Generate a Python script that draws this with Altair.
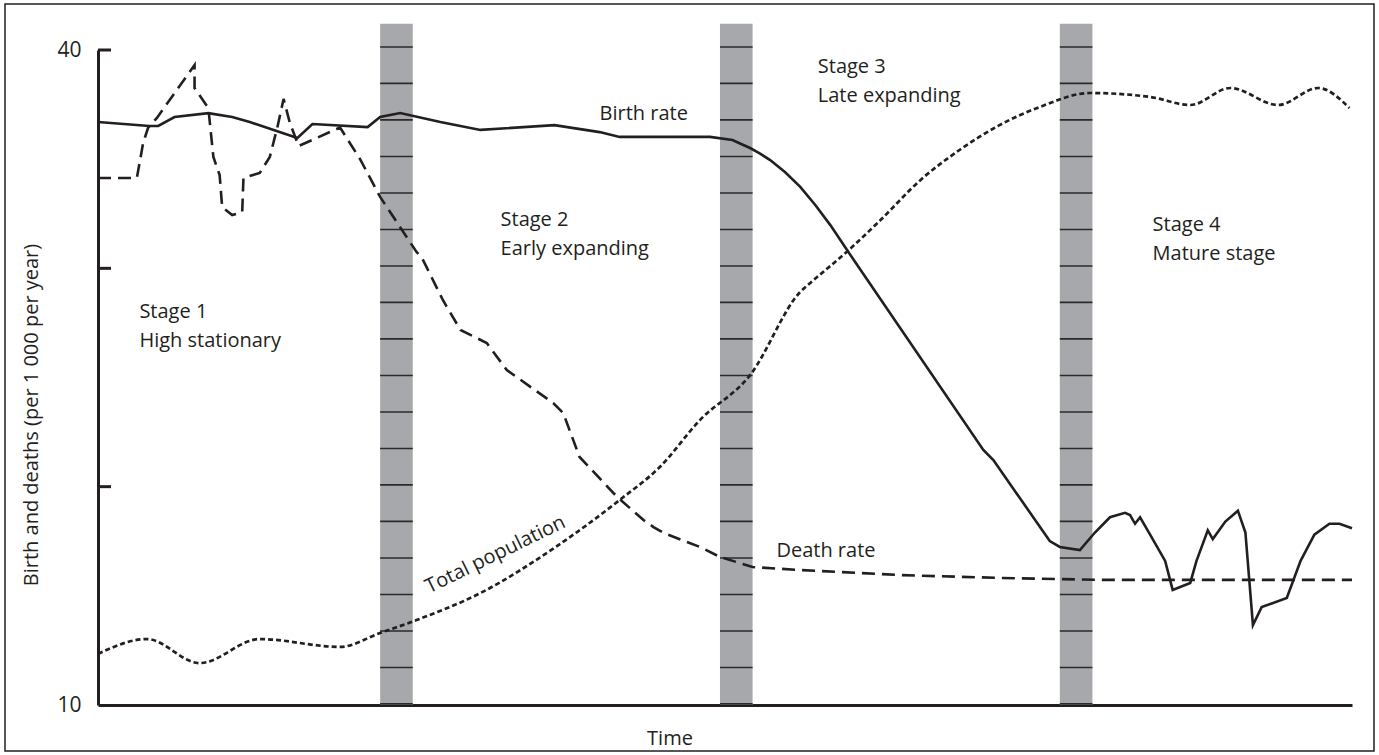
import altair as alt
import pandas as pd

# Time runs on an unlabelled 0-100 scale; rates are per 1 000 per year
birth_t = [0, 4.1, 4.8, 6.1, 8.8, 10.7, 12.1, 15.9, 17.1, 21.5, 22.5, 24.1, 27.3, 30.5, 36.4,
           40.0, 41.6, 48.8, 50.6, 51.2, 52.0, 52.8, 53.6, 54.8, 56.0, 57.2, 58.4, 60.0, 70.6,
           71.4, 75.9, 76.7, 78.3,
           79.5, 80.7, 81.9, 82.3, 82.7, 83.1, 83.9, 85.1, 85.7, 87.1, 87.6, 88.5, 88.9, 89.9,
           90.9, 91.5, 92.1, 92.8, 94.8, 95.9, 97.0, 98.2, 99.0, 100]
birth_v = [36.70, 36.52, 36.52, 36.93, 37.11, 36.93, 36.70, 35.97, 36.61, 36.47, 36.93, 37.11,
           36.70, 36.34, 36.56, 36.24, 36.02, 36.02, 35.88, 35.72, 35.51, 35.25, 34.96, 34.40,
           33.73, 32.90, 31.98, 30.61, 21.68, 21.22, 17.51, 17.24, 17.10,
           17.9, 18.6, 18.8, 18.7, 18.3, 18.6, 17.8, 16.6,
           15.27, 15.59, 16.6, 18.0, 17.6, 18.4, 18.9, 17.9, 13.66, 14.49, 14.90, 16.6, 17.8,
           18.3, 18.3, 18.1]

death_t = [0, 3.1, 3.6, 4.0, 4.7, 7.7, 7.7, 8.8, 9.2, 9.7, 9.9, 10.7, 11.5, 11.6, 12.9, 13.7,
           14.3, 14.8, 15.3, 16.0, 19.3, 20.9, 22.5, 25.4, 25.8, 27.5, 28.9, 31.0, 32.6, 36.3,
           37.1, 38.4, 41.4, 43.5, 44.3, 45.1, 48.0, 49.6, 52.2, 56.0, 64.0, 71.9, 80.0, 100]
death_v = [34.14, 34.14, 35.74, 36.45, 36.89, 39.31, 38.26, 37.34, 35.10, 34.27, 32.81, 32.44,
           32.58, 34.14, 34.37, 35.10, 36.45, 37.76, 36.66, 35.60, 36.45, 35.00, 33.27, 30.75,
           30.52, 28.55, 27.18, 26.58, 25.34, 23.83, 23.37, 21.36, 19.53, 18.47, 18.15, 17.88,
           17.24, 16.78, 16.32, 16.18, 15.95, 15.82, 15.73, 15.73]

pop_t = [0, 3.9, 8.1, 12.9, 19.3, 22.5, 25.4, 30.5, 36.5, 41.6, 44.8, 48.0, 52.0, 56.0, 56.8,
         59.7, 62.4, 65.6, 68.7, 71.9, 75.1, 79.1, 83.9, 87.1, 90.3, 94.1, 97.3, 99.8]
pop_v = [12.34, 13.02, 11.92, 13.02, 12.66, 13.30, 13.89, 15.13, 17.24, 19.39, 20.90, 23.05,
         25.11, 28.92, 29.33, 30.75, 32.21, 34.05, 35.42, 36.56, 37.39, 38.03, 37.85, 37.48,
         38.26, 37.48, 38.26, 37.34]

band_start = [22.5, 49.6, 76.7]
band_end = [25.1, 52.2, 79.3]
band_bottom = 10
band_top = 41.2
stripe_levels = [40.14, 38.47, 36.80, 35.12, 33.45, 31.78, 30.11, 28.44, 26.77, 25.09, 23.42,
                 21.75, 20.08, 18.41, 16.73, 15.06, 13.39, 11.72, 10.05]

tick_values = [20, 30, 40]

label_text = ["Stage 1", "High stationary", "Stage 2", "Early expanding", "Stage 3",
              "Late expanding", "Stage 4", "Mature stage", "Birth rate", "Death rate"]
label_t = [3.3, 3.3, 32.1, 32.1, 57.4, 57.4, 84.1, 84.1, 40.0, 54.1]
label_v = [27.72, 26.40, 31.94, 30.61, 38.95, 37.62, 31.71, 30.38, 36.79, 16.78]

rot_text = ["Total population"]
rot_t = [31.9]
rot_v = [16.64]

INK = "#231f20"
FONT = "Open Sans"
FS = 20

xscale = alt.Scale(domain=[0, 100], nice=False, zero=False)
yscale = alt.Scale(domain=[10, 40], nice=False, zero=False)
xaxis = alt.Axis(labels=False, ticks=False, grid=False, title=None, domainWidth=3,
                 domainColor=INK)
yaxis = alt.Axis(values=[10, 40], ticks=False, grid=False, title=None, domainWidth=3,
                 domainColor=INK, labelFont=FONT, labelFontSize=21, labelColor=INK,
                 labelPadding=17)


def X(f="t"):
    return alt.X(f"{f}:Q", scale=xscale, axis=xaxis)


def Y(f="v"):
    return alt.Y(f"{f}:Q", scale=yscale, axis=yaxis)


bands_df = pd.DataFrame({"t": band_start, "t2": band_end,
                         "v": [band_bottom] * 3, "v2": [band_top] * 3})
bands = alt.Chart(bands_df).mark_rect(color="#a7a8ab").encode(
    x=X(), x2="t2:Q", y=Y(), y2="v2:Q")

stripe_rows = [{"t": s, "t2": e, "v": lv} for s, e in zip(band_start, band_end)
               for lv in stripe_levels]
stripes = alt.Chart(pd.DataFrame(stripe_rows)).mark_rule(
    color="#2a2a2a", strokeWidth=1.6).encode(x=X(), x2="t2:Q", y=Y())

ticks = alt.Chart(pd.DataFrame({"v": tick_values})).mark_rule(
    color=INK, strokeWidth=3).encode(x=alt.value(0), x2=alt.value(13), y=Y())


def series(ts, vs):
    return pd.DataFrame({"t": ts, "v": vs, "i": list(range(len(ts)))})


birth = alt.Chart(series(birth_t, birth_v)).mark_line(
    color=INK, strokeWidth=2.6).encode(x=X(), y=Y(), order="i:Q")
death = alt.Chart(series(death_t, death_v)).mark_line(
    color=INK, strokeWidth=2.6, strokeDash=[13, 7]).encode(x=X(), y=Y(), order="i:Q")
pop = alt.Chart(series(pop_t, pop_v)).mark_line(
    color=INK, strokeWidth=2.7, strokeDash=[5, 3], interpolate="monotone").encode(
    x=X(), y=Y(), order="i:Q")

labels = alt.Chart(pd.DataFrame({"t": label_t, "v": label_v, "txt": label_text})).mark_text(
    align="left", baseline="alphabetic", font=FONT, fontSize=FS, color=INK).encode(
    x=X(), y=Y(), text="txt:N")

rot = alt.Chart(pd.DataFrame({"t": rot_t, "v": rot_v, "txt": rot_text})).mark_text(
    align="center", baseline="alphabetic", font=FONT, fontSize=FS, color=INK,
    angle=334).encode(x=X(), y=Y(), text="txt:N")

one = pd.DataFrame({"a": [0]})
time_title = alt.Chart(one).mark_text(
    text="Time", align="center", baseline="alphabetic", font=FONT, fontSize=FS,
    color=INK).encode(x=alt.value(572), y=alt.value(695))
y_title = alt.Chart(one).mark_text(
    text="Birth and deaths (per 1 000 per year)", align="center", baseline="middle",
    angle=270, font=FONT, fontSize=20, color=INK).encode(x=alt.value(-66), y=alt.value(365))

frame = alt.Chart(one).mark_rect(
    fillOpacity=0, stroke=INK, strokeWidth=1.5).encode(
    x=alt.value(-93), x2=alt.value(1276), y=alt.value(-46), y2=alt.value(701))

chart = alt.layer(
    bands, stripes, ticks, pop, death, birth, labels, rot, time_title, y_title, frame
).properties(
    width=1254, height=655,
    autosize=alt.AutoSizeParams(type="none"),
    padding={"left": 98, "top": 50, "right": 27, "bottom": 50},
    background="white",
).configure_view(stroke=None)

chart.save("out.html", embed_options={"renderer": "svg", "actions": False})
